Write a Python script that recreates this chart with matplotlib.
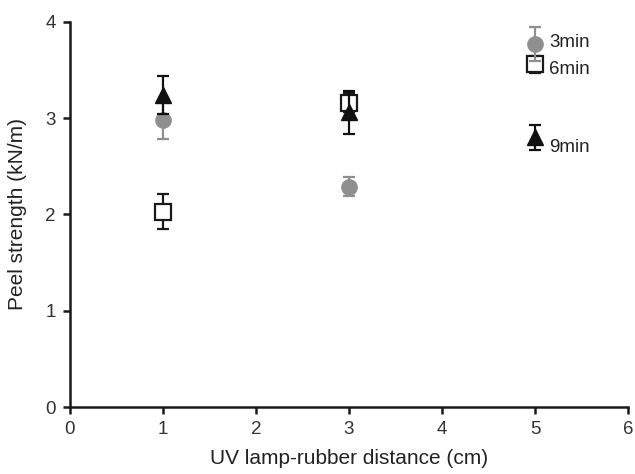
import numpy as np
import matplotlib
matplotlib.use('Agg')
import matplotlib.pyplot as plt

plt.rcParams['font.family'] = ['Liberation Sans', 'DejaVu Sans']

# 数据
distance = [1, 3, 5]
peel_3min = [2.98, 2.29, 3.77]
err_3min = [0.20, 0.10, 0.18]
peel_6min = [2.03, 3.16, 3.56]
err_6min = [0.18, 0.10, 0.09]
peel_9min = [3.24, 3.06, 2.80]
err_9min = [0.20, 0.22, 0.13]

labels = ['3min', '6min', '9min']
label_y = [3.79, 3.51, 2.70]

fig = plt.figure(figsize=(6.35, 4.74), dpi=100)
ax = fig.add_axes([0.110, 0.141, 0.879, 0.813])

ax.errorbar(distance, peel_3min, yerr=err_3min, fmt='o', color='#8f8f8f',
            ms=11, capsize=4.5, elinewidth=1.6, capthick=1.6, zorder=3)
ax.errorbar(distance, peel_6min, yerr=err_6min, fmt='s', mfc='white',
            mec='#1a1a1a', mew=1.6, ecolor='#1a1a1a', ms=11.5, capsize=4.5,
            elinewidth=1.6, capthick=1.6, zorder=2)
ax.errorbar(distance, peel_9min, yerr=err_9min, fmt='^', color='#111111',
            ms=11, capsize=4.5, elinewidth=1.6, capthick=1.6, zorder=4)

for lab, ly in zip(labels, label_y):
    ax.text(5.15, ly, lab, fontsize=13.5, va='center', ha='left', color='#222222')

ax.set_xlim(0, 6)
ax.set_ylim(0, 4)
ax.set_xticks(range(0, 7))
ax.set_yticks(range(0, 5))
ax.spines['top'].set_visible(False)
ax.spines['right'].set_visible(False)
for s in ['left', 'bottom']:
    ax.spines[s].set_linewidth(1.8)
    ax.spines[s].set_color('#1a1a1a')
ax.tick_params(direction='out', length=5, width=1.8, labelsize=13.5,
               colors='#1a1a1a', labelcolor='#333333', pad=5)
ax.set_xlabel('UV lamp-rubber distance (cm)', fontsize=15, color='#222222')
ax.set_ylabel('Peel strength (kN/m)', fontsize=15, color='#222222')
ax.xaxis.set_label_coords(0.5, -0.108)
ax.yaxis.set_label_coords(-0.077, 0.5)

plt.savefig('out.png', dpi=100)
